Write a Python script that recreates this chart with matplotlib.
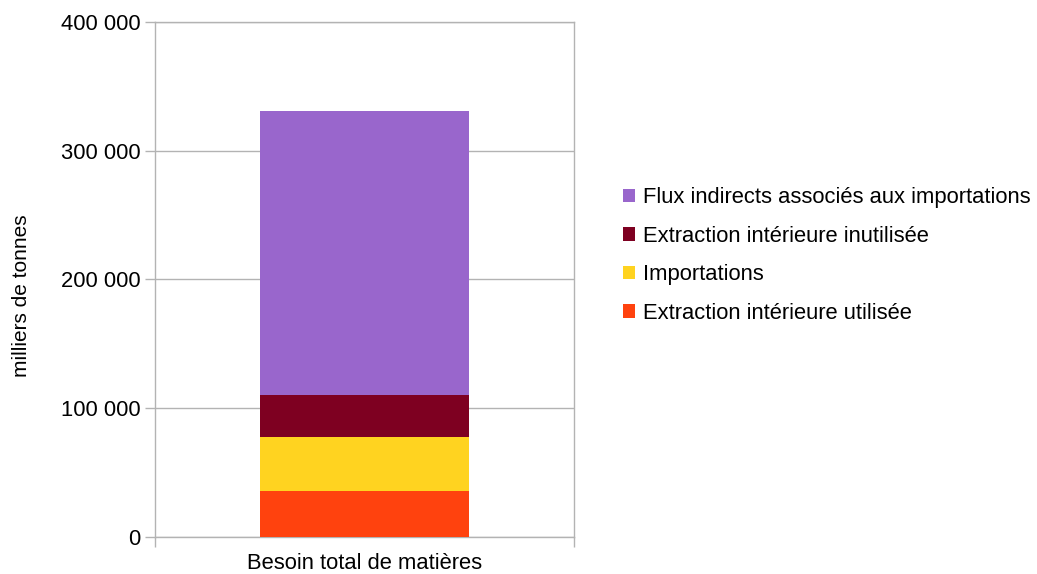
import matplotlib.pyplot as plt
import numpy as np

plt.rcParams['font.family'] = ['Liberation Sans', 'DejaVu Sans']

# data (milliers de tonnes), bottom to top
category = "Besoin total de matières"
series = ["Extraction intérieure utilisée", "Importations",
          "Extraction intérieure inutilisée", "Flux indirects associés aux importations"]
values = [35600, 41800, 32700, 220900]
colors = ["#ff420e", "#ffd320", "#7e0021", "#9966cc"]

y_ticks = [0, 100000, 200000, 300000, 400000]
y_ticklabels = ["0", "100 000", "200 000", "300 000", "400 000"]

fig = plt.figure(figsize=(10.37, 5.74), dpi=100)
ax = fig.add_axes([0.1495, 0.0653, 0.4040, 0.8958])

grid_col = "#b3b3b3"
fs = 15.8
bottom = 0
bars = []
for name, v, c in zip(series, values, colors):
    b = ax.bar(0, v, width=0.5, bottom=bottom, color=c, label=name, zorder=3)
    bars.append(b)
    bottom += v

ax.set_xlim(-0.5, 0.5)
ax.set_ylim(0, 400000)
ax.set_yticks(y_ticks)
ax.set_yticklabels(y_ticklabels, fontsize=fs)
ax.yaxis.grid(True, color=grid_col, linewidth=1, zorder=0)

# category boundary ticks + centred label
ax.set_xticks([-0.5, 0.5])
ax.set_xticklabels(["", ""])
ax.set_xticks([0], minor=True)
ax.set_xticklabels([category], minor=True, fontsize=fs)
ax.tick_params(axis='x', which='minor', length=0, pad=12)
ax.tick_params(axis='both', which='major', length=7.5, width=1, color=grid_col)
ax.tick_params(axis='y', pad=3)

for s in ax.spines.values():
    s.set_color(grid_col)
    s.set_linewidth(1)

ax.set_ylabel("milliers de tonnes", fontsize=15)
ax.yaxis.set_label_coords(-0.295, 0.468)

handles = bars[::-1]
labels = series[::-1]
fig.legend(handles, labels, loc='center left', bbox_to_anchor=(0.582, 0.555),
           frameon=False, fontsize=fs, handlelength=0.55, handleheight=0.55,
           handletextpad=0.35, labelspacing=0.8)

plt.savefig("out.png", dpi=100)
